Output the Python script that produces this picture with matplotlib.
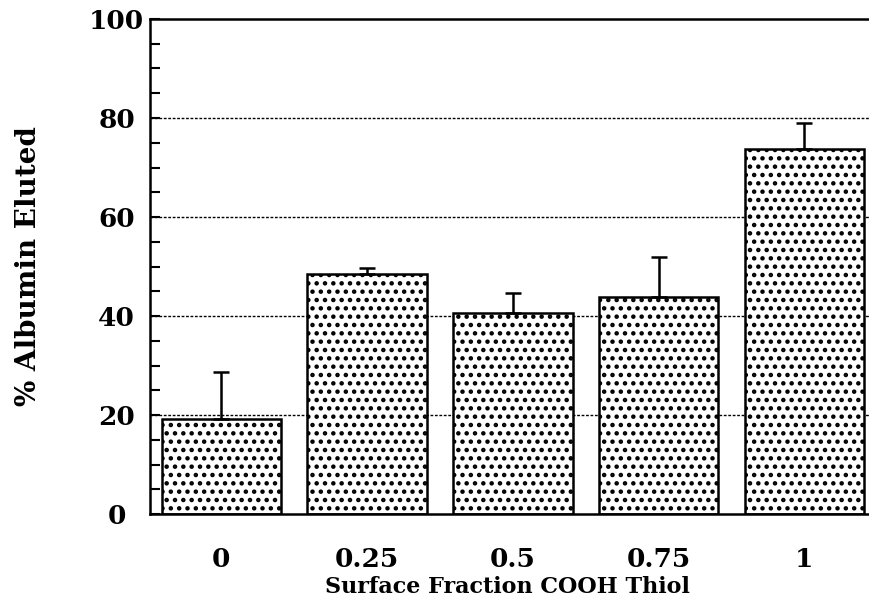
import matplotlib
matplotlib.use('Agg')
import matplotlib.pyplot as plt
from matplotlib.ticker import MultipleLocator

# Albumin elution vs. surface fraction of COOH-terminated thiol
fractions = ['0', '0.25', '0.5', '0.75', '1']
eluted = [19.2, 48.5, 40.6, 43.8, 73.7]
err_up = [9.5, 1.2, 4.0, 8.1, 5.3]

plt.rcParams['hatch.linewidth'] = 2.0
plt.rcParams['font.family'] = 'DejaVu Serif'

fig = plt.figure(figsize=(8.7, 6.05), dpi=100)
ax = fig.add_axes([0.1724, 0.1504, 0.8276, 0.8182])

pos = list(range(len(fractions)))
ax.bar(pos, eluted, width=0.82, color='white', edgecolor='black',
       linewidth=1.8, hatch='..', zorder=2)
ax.errorbar(pos, eluted, yerr=[[0] * len(err_up), err_up], fmt='none',
            ecolor='black', elinewidth=1.8, capsize=6, capthick=1.8, zorder=3)

# dotted reference lines behind the bars
for y in [20, 40, 60, 80]:
    ax.axhline(y, color='black', linewidth=1.0, linestyle=(0, (2, 1.2)), zorder=1)

ax.set_xlim(-0.49, 4.45)
ax.set_ylim(0, 100)
ax.set_xticks(pos)
ax.set_xticklabels(fractions)
ax.yaxis.set_major_locator(MultipleLocator(20))
ax.yaxis.set_minor_locator(MultipleLocator(5))

ax.tick_params(axis='x', length=0, pad=24, labelsize=19)
ax.tick_params(axis='y', which='both', direction='in', length=7, width=1.5,
               pad=24, labelsize=19)
for lab in ax.get_xticklabels():
    lab.set_fontweight('bold')
for lab in ax.get_yticklabels():
    lab.set_fontweight('bold')
    lab.set_horizontalalignment('center')

for side in ['left', 'bottom', 'top']:
    ax.spines[side].set_linewidth(1.8)
ax.spines['right'].set_visible(False)

ax.set_ylabel('% Albumin Eluted', fontsize=20, fontweight='bold')
ax.yaxis.set_label_coords(-0.15, 0.5)
ax.set_xlabel('Surface Fraction COOH Thiol', fontsize=16, fontweight='bold')
ax.xaxis.set_label_coords(0.497, -0.125)

fig.savefig('out.png', dpi=100)
